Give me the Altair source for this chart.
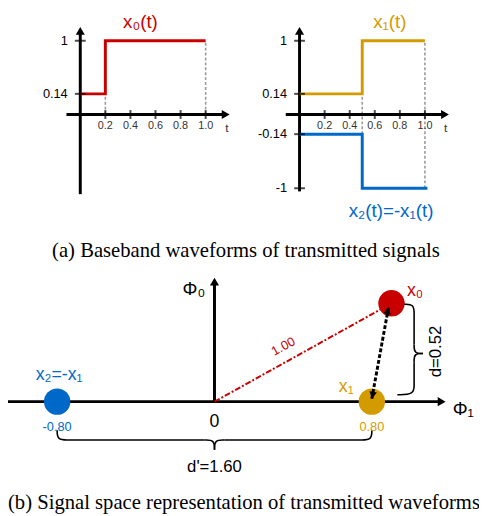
import altair as alt
import pandas as pd

W, H = 479, 508
RED = "#C80000"
GOLD = "#D39B00"
BLUE = "#0068C9"
GRAY = "#9A9A9A"
SANS = "Liberation Sans"
SERIF = "Liberation Serif"

# ---------------- data: baseband waveforms ----------------
x0_t = [0.0, 0.2, 1.0]
x0_v = [0.14, 1.0, 1.0]
x1_t = [0.0, 0.5, 1.0]
x1_v = [0.14, 1.0, 1.0]
x2_t = [0.0, 0.5, 1.02]
x2_v = [-0.14, -1.0, -1.0]
t_ticks = [0.2, 0.4, 0.6, 0.8, 1.0]
t_tick_labels = ["0.2", "0.4", "0.6", "0.8", "1.0"]
left_levels = [1.0, 0.14]
left_level_labels = ["1", "0.14"]
right_levels = [1.0, 0.14, -0.14, -1.0]
right_level_labels = ["1", "0.14", "-0.14", "-1"]

# ---------------- data: signal space ----------------
sig_labels = ["x₀", "x₁", "x₂=-x₁"]
sig_phi1 = [0.9, 0.8, -0.8]
sig_phi0 = [0.5, 0.0, 0.0]
sig_colors = [RED, GOLD, BLUE]
coord_labels = ["-0.80", "0.80"]
coord_vals = [-0.8, 0.8]
dist_origin = "1.00"
dist_d = "d=0.52"
dist_dprime = "d'=1.60"

# ---------------- scales ----------------
ys_top = alt.Scale(domain=[-1, -0.14, 0, 0.14, 1], range=[179, 124, 104, 83, 29],
                   nice=False, zero=False)
xs_left = alt.Scale(domain=[-0.57647, 3.18039], nice=False, zero=False)
xs_right = alt.Scale(domain=[-2.32549, 1.43137], nice=False, zero=False)
xs_b = alt.Scale(domain=[-1.05, 1.345], nice=False, zero=False)
ys_b = alt.Scale(domain=[-0.56, 1.98], nice=False, zero=False)


def X(f, s):
    return alt.X(f"{f}:Q", scale=s, axis=None)


def Y(f, s):
    return alt.Y(f"{f}:Q", scale=s, axis=None)


def texts(rows, xs, ys, **kw):
    df = pd.DataFrame(rows, columns=["x", "y", "label"])
    return alt.Chart(df).mark_text(**kw).encode(x=X("x", xs), y=Y("y", ys), text="label:N")


def waveform_panel(xs, series, levels, level_labels, dashed, ybottom, title_rows, t_label_x):
    layers = []
    d = pd.DataFrame(dashed, columns=["x", "y", "y2"])
    layers.append(alt.Chart(d).mark_rule(color=GRAY, strokeWidth=1.6, strokeDash=[3, 2]).encode(
        x=X("x", xs), y=Y("y", ys_top), y2="y2:Q"))
    ax = pd.DataFrame({"x": [-0.11, 0.0], "x2": [1.16, 0.0], "y": [0.0, ybottom], "y2": [0.0, 1.16]})
    layers.append(alt.Chart(ax).mark_rule(color="black", strokeWidth=3).encode(
        x=X("x", xs), x2="x2:Q", y=Y("y", ys_top), y2="y2:Q"))
    arr = pd.DataFrame({"x": [1.16, 0.0], "y": [0.0, 1.161], "shape": ["triangle-right", "triangle-up"]})
    layers.append(alt.Chart(arr).mark_point(filled=True, size=85, opacity=1, color="black").encode(
        x=X("x", xs), y=Y("y", ys_top), shape=alt.Shape("shape:N", scale=None)))
    for tt, vv, col in series:
        df = pd.DataFrame({"t": tt, "v": vv})
        layers.append(alt.Chart(df).mark_line(color=col, strokeWidth=3, interpolate="step-after").encode(
            x=X("t", xs), y=Y("v", ys_top)))
    tk = pd.DataFrame({"t": t_ticks, "y": [0.0] * len(t_ticks)})
    layers.append(alt.Chart(tk).mark_tick(orient="vertical", size=9, thickness=2, color="black").encode(
        x=X("t", xs), y=Y("y", ys_top)))
    lv = pd.DataFrame({"t": [0.0] * len(levels), "y": levels})
    layers.append(alt.Chart(lv).mark_tick(orient="horizontal", size=11, thickness=2, color="black").encode(
        x=X("t", xs), y=Y("y", ys_top)))
    layers.append(texts([(t, -0.085, l) for t, l in zip(t_ticks, t_tick_labels)], xs, ys_top,
                        font=SANS, fontSize=11, color="#333333", baseline="middle"))
    layers.append(texts([(-0.1, v, l) for v, l in zip(levels, level_labels)], xs, ys_top,
                        font=SANS, fontSize=13, color="black", align="right", baseline="middle"))
    layers.append(texts([(t_label_x, -0.095, "t")], xs, ys_top,
                        font=SANS, fontSize=12, color="#333333", baseline="middle"))
    for (tx, ty, lab, col) in title_rows:
        layers.append(texts([(tx, ty, lab)], xs, ys_top, font=SANS, fontSize=19, color=col,
                            baseline="middle"))
    return alt.layer(*layers)


top_left = waveform_panel(
    xs_left, [(x0_t, x0_v, RED)], left_levels, left_level_labels,
    [(0.2, 0.0, 0.14), (1.0, 0.0, 1.0)], -1.094,
    [(0.48, 1.30, "x₀(t)", RED)], 1.17)

top_right = waveform_panel(
    xs_right, [(x1_t, x1_v, GOLD), (x2_t, x2_v, BLUE)], right_levels, right_level_labels,
    [(0.5, -0.14, 0.14), (1.0, -1.0, 1.0)], -1.05,
    [(0.72, 1.30, "x₁(t)", GOLD), (0.73, -1.37, "x₂(t)=-x₁(t)", BLUE)], 1.165)

# ---------------- signal space panel ----------------
bl = []
axb = pd.DataFrame({"x": [-1.05, 0.0], "x2": [1.155, 0.0], "y": [0.0, 0.0], "y2": [0.0, 0.61]})
bl.append(alt.Chart(axb).mark_rule(color="black", strokeWidth=3).encode(
    x=X("x", xs_b), x2="x2:Q", y=Y("y", ys_b), y2="y2:Q"))
arrb = pd.DataFrame({"x": [1.155, 0.0], "y": [0.0, 0.61], "shape": ["triangle-right", "triangle-up"]})
bl.append(alt.Chart(arrb).mark_point(filled=True, size=85, opacity=1, color="black").encode(
    x=X("x", xs_b), y=Y("y", ys_b), shape=alt.Shape("shape:N", scale=None)))
od = pd.DataFrame({"x": [0.0, sig_phi1[0]], "y": [0.0, sig_phi0[0]]})
bl.append(alt.Chart(od).mark_line(color=RED, strokeWidth=2, strokeDash=[6, 2, 2, 2]).encode(
    x=X("x", xs_b), y=Y("y", ys_b)))
pts = pd.DataFrame({"x": sig_phi1, "y": sig_phi0, "c": sig_colors})
bl.append(alt.Chart(pts).mark_circle(size=720, opacity=1).encode(
    x=X("x", xs_b), y=Y("y", ys_b), color=alt.Color("c:N", scale=None)))
da = pd.DataFrame({"x": [0.885, 0.80], "y": [0.48, 0.015]})
bl.append(alt.Chart(da).mark_line(color="black", strokeWidth=3, strokeDash=[4, 2]).encode(
    x=X("x", xs_b), y=Y("y", ys_b)))
dah = pd.DataFrame({"x": [0.881, 0.804], "y": [0.462, 0.033], "a": [10, 190]})
bl.append(alt.Chart(dah).mark_point(filled=True, size=60, opacity=1, color="black", shape="triangle-up").encode(
    x=X("x", xs_b), y=Y("y", ys_b), angle=alt.Angle("a:Q", scale=None)))
brace_h_seg = [0, 0, 0, 1, 1, 2, 2, 2, 3, 3, 3, 4, 4, 5, 5, 5]
brace_h_x = [-0.80, -0.80, -0.74, -0.74, -0.05, -0.05, 0.0, 0.0, 0.0, 0.0, 0.05, 0.05, 0.74, 0.74, 0.80, 0.80]
brace_h_y = [-0.145, -0.195, -0.195, -0.195, -0.195, -0.195, -0.195, -0.245, -0.245, -0.195, -0.195,
             -0.195, -0.195, -0.195, -0.195, -0.145]
brace_v_seg = [10, 10, 10, 11, 11, 12, 12, 12, 13, 13, 13, 14, 14, 15, 15, 15]
brace_v_x = [0.965, 1.015, 1.015, 1.015, 1.015, 1.015, 1.015, 1.06, 1.06, 1.015, 1.015, 1.015, 1.015,
             1.015, 1.015, 0.93]
brace_v_y = [0.495, 0.495, 0.44, 0.44, 0.29, 0.29, 0.245, 0.245, 0.245, 0.245, 0.20, 0.20, 0.09,
             0.09, 0.035, 0.035]
br = pd.DataFrame({"x": brace_h_x + brace_v_x, "y": brace_h_y + brace_v_y,
                   "seg": brace_h_seg + brace_v_seg, "ord": list(range(len(brace_h_x) + len(brace_v_x)))})
bl.append(alt.Chart(br).mark_line(color="black", strokeWidth=1.6, interpolate="basis").encode(
    x=X("x", xs_b), y=Y("y", ys_b), detail="seg:N", order="ord:Q"))
bl.append(texts([(-0.105, 0.57, "Φ₀")], xs_b, ys_b, font=SANS, fontSize=19, baseline="middle"))
bl.append(texts([(1.265, -0.04, "Φ₁")], xs_b, ys_b, font=SANS, fontSize=19, baseline="middle"))
bl.append(texts([(0.0, -0.105, "0")], xs_b, ys_b, font=SANS, fontSize=18, baseline="middle"))
lab_df = pd.DataFrame({"x": [1.02, 0.67, -0.79], "y": [0.56, 0.075, 0.135],
                       "label": sig_labels, "c": sig_colors})
bl.append(alt.Chart(lab_df).mark_text(font=SANS, fontSize=18, baseline="middle").encode(
    x=X("x", xs_b), y=Y("y", ys_b), text="label:N", color=alt.Color("c:N", scale=None)))
cl_df = pd.DataFrame({"x": coord_vals, "y": [-0.13, -0.13], "label": coord_labels, "c": [BLUE, GOLD]})
bl.append(alt.Chart(cl_df).mark_text(font=SANS, fontSize=13, baseline="middle").encode(
    x=X("x", xs_b), y=Y("y", ys_b), text="label:N", color=alt.Color("c:N", scale=None)))
bl.append(texts([(0.35, 0.28, dist_origin)], xs_b, ys_b, font=SANS, fontSize=13, color=RED,
                angle=331, baseline="middle"))
bl.append(texts([(1.125, 0.255, dist_d)], xs_b, ys_b, font=SANS, fontSize=17, color="black",
                angle=270, baseline="middle"))
bl.append(texts([(0.0, -0.335, dist_dprime)], xs_b, ys_b, font=SANS, fontSize=17, color="black",
                baseline="middle"))
bl.append(texts([(0.16, 0.765, "(a)  Baseband waveforms of transmitted signals")], xs_b, ys_b,
                font=SERIF, fontSize=21, color="black", baseline="middle"))
bl.append(texts([(-1.05, -0.515, "(b)  Signal space representation of transmitted waveforms")], xs_b, ys_b,
                font=SERIF, fontSize=21, color="black", align="left", baseline="middle"))
bottom = alt.layer(*bl)

chart = alt.layer(top_left, top_right, bottom).resolve_scale(
    x="independent", y="independent"
).properties(
    width=W, height=H, autosize=alt.AutoSizeParams(type="none"), padding=0
).configure_view(stroke=None)

chart.save("out.html", embed_options={"renderer": "svg", "actions": False})
